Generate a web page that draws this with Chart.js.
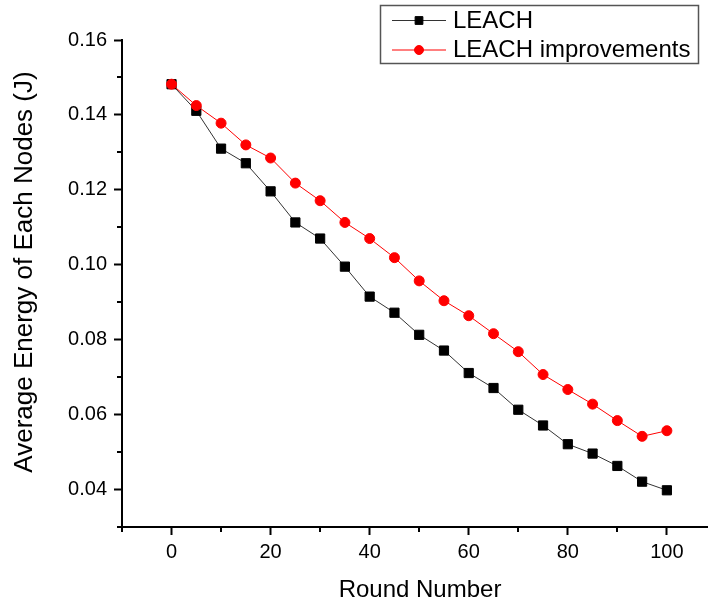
<!DOCTYPE html>
<html>
<head>
<meta charset="utf-8">
<script src="https://cdn.jsdelivr.net/npm/chart.js@4/dist/chart.umd.min.js"></script>
<style>
  html, body { margin:0; padding:0; background:#fff; overflow:hidden; }
  #wrap { width:708px; height:601px; }
</style>
</head>
<body>
<div id="wrap"><canvas id="chart" width="708" height="601"></canvas></div>
<script>
/* ==== Data ==== */
const rounds = [0, 5, 10, 15, 20, 25, 30, 35, 40, 45, 50, 55, 60, 65, 70, 75, 80, 85, 90, 95, 100];
const leach = [0.1482, 0.1411, 0.1310, 0.1271, 0.1196, 0.1113, 0.1070, 0.0995, 0.0915, 0.0872, 0.0813,
               0.0771, 0.0711, 0.0671, 0.0613, 0.0571, 0.0521, 0.0496, 0.0463, 0.0421, 0.0398];
const leachImproved = [0.1482, 0.1425, 0.1378, 0.1320, 0.1285, 0.1218, 0.1171, 0.1113, 0.1070, 0.1019, 0.0957,
                       0.0904, 0.0864, 0.0816, 0.0768, 0.0707, 0.0667, 0.0628, 0.0584, 0.0542, 0.0557];
const seriesNames = ['LEACH', 'LEACH improvements'];
const xTicks = [-10, 0, 10, 20, 30, 40, 50, 60, 70, 80, 90, 100];
const yTicks = [0.03, 0.04, 0.05, 0.06, 0.07, 0.08, 0.09, 0.10, 0.11, 0.12, 0.13, 0.14, 0.15, 0.16];
const xTitle = 'Round Number';
const yTitle = 'Average Energy of Each Nodes (J)';

const FONT = '"Liberation Sans", Arial, sans-serif';

const isMajorX = v => v >= 0 && v % 20 === 0;
const isMajorY = v => Math.round(v * 100) % 2 === 0;

const toPoints = ys => rounds.map((r, i) => ({ x: r, y: ys[i] }));

/* ==== Overlay: minor ticks, axis titles, legend ==== */
const overlay = {
  id: 'overlay',
  afterDraw(chart){
    const ctx = chart.ctx;
    const xs = chart.scales.x, ys = chart.scales.y;
    const area = chart.chartArea;
    ctx.save();

    // minor ticks
    ctx.strokeStyle = '#000';
    ctx.lineWidth = 2;
    xTicks.filter(v => !isMajorX(v)).forEach(v => {
      const px = Math.round(xs.getPixelForValue(v));
      ctx.beginPath();
      ctx.moveTo(px, area.bottom);
      ctx.lineTo(px, area.bottom + 5);
      ctx.stroke();
    });
    yTicks.filter(v => !isMajorY(v)).forEach(v => {
      const py = Math.round(ys.getPixelForValue(v));
      ctx.beginPath();
      ctx.moveTo(area.left, py);
      ctx.lineTo(area.left - 5, py);
      ctx.stroke();
    });

    // axis titles
    ctx.fillStyle = '#000';
    ctx.textAlign = 'center';
    ctx.textBaseline = 'alphabetic';
    ctx.font = '24px ' + FONT;
    ctx.fillText(xTitle, 420, 597);
    ctx.save();
    ctx.font = '26px ' + FONT;
    ctx.translate(32, 272);
    ctx.rotate(-Math.PI / 2);
    ctx.fillText(yTitle, 0, 0);
    ctx.restore();

    // legend box
    ctx.strokeStyle = '#555';
    ctx.lineWidth = 1.5;
    ctx.strokeRect(380.5, 5.5, 318, 58);
    const rows = [20.5, 50];
    const bases = [27.5, 57];
    chart.data.datasets.forEach((ds, i) => {
      const y = rows[i];
      ctx.strokeStyle = ds.borderColor;
      ctx.lineWidth = 1;
      ctx.beginPath();
      ctx.moveTo(392, y);
      ctx.lineTo(446, y);
      ctx.stroke();
      ctx.fillStyle = ds.pointBackgroundColor;
      ctx.strokeStyle = ds.pointBorderColor;
      Chart.helpers.drawPoint(ctx, {
        pointStyle: ds.pointStyle,
        radius: ds.pointStyle === 'rect' ? 5.5 : 4.5,
        borderWidth: 1
      }, 419, y);
      ctx.fillStyle = '#000';
      ctx.font = '24px ' + FONT;
      ctx.textAlign = 'left';
      ctx.fillText(ds.label, 453, bases[i]);
    });
    ctx.restore();
  }
};

/* ==== Chart ==== */
const ctx = document.getElementById('chart').getContext('2d');
const chart = new Chart(ctx, {
  type: 'line',
  data: {
    datasets: [
      {
        label: seriesNames[0],
        data: toPoints(leach),
        borderColor: '#333',
        borderWidth: 1,
        pointStyle: 'rect',
        pointRadius: 6.5,
        pointBackgroundColor: '#000',
        pointBorderColor: '#000',
        pointBorderWidth: 1,
        tension: 0,
        order: 2
      },
      {
        label: seriesNames[1],
        data: toPoints(leachImproved),
        borderColor: '#ff0000',
        borderWidth: 1,
        pointStyle: 'circle',
        pointRadius: 5,
        pointBackgroundColor: '#ff0000',
        pointBorderColor: '#ff0000',
        pointBorderWidth: 1,
        tension: 0,
        order: 1
      }
    ]
  },
  options: {
    responsive: false,
    animation: false,
    events: [],
    layout: { autoPadding: false, padding: { top: 40, right: 0, left: 0, bottom: 0 } },
    plugins: { legend: { display: false }, tooltip: { enabled: false } },
    scales: {
      x: {
        type: 'linear',
        min: -10,
        max: 108.3,
        afterBuildTicks: s => { s.ticks = xTicks.map(v => ({ value: v })); },
        afterFit: s => { s.height = 74; s.paddingLeft = 0; s.paddingRight = 0; },
        border: { display: true, color: '#000', width: 2 },
        grid: {
          drawOnChartArea: false,
          drawTicks: true,
          tickLength: 8,
          tickWidth: 2,
          tickColor: c => isMajorX(c.tick.value) ? '#000' : 'rgba(0,0,0,0)'
        },
        ticks: {
          autoSkip: false,
          maxRotation: 0,
          padding: 5,
          color: '#000',
          font: { family: FONT, size: 20 },
          callback: v => isMajorX(v) ? String(v) : ''
        }
      },
      y: {
        min: 0.03,
        max: 0.16,
        afterBuildTicks: s => { s.ticks = yTicks.map(v => ({ value: v })); },
        afterFit: s => { s.width = 122; },
        border: { display: true, color: '#000', width: 2 },
        grid: {
          drawOnChartArea: false,
          drawTicks: true,
          tickLength: 8,
          tickWidth: 2,
          tickColor: c => isMajorY(c.tick.value) ? '#000' : 'rgba(0,0,0,0)'
        },
        ticks: {
          autoSkip: false,
          padding: 7,
          color: '#000',
          font: { family: FONT, size: 20 },
          callback: v => isMajorY(v) ? v.toFixed(2) : ''
        }
      }
    }
  },
  plugins: [overlay]
});
</script>
</body>
</html>
